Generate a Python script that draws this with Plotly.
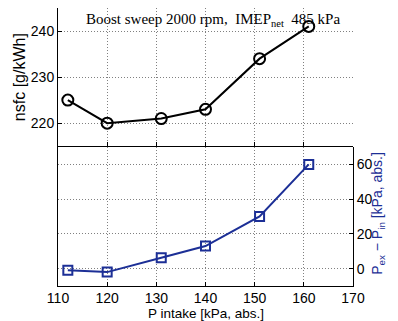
import plotly.graph_objects as go

p_intake = [112, 120, 131, 140, 151, 161]
nsfc = [225, 220, 221, 223, 234, 241]
dp = [-1, -2, 6.3, 13, 30, 60]

x_ticks = [110, 120, 130, 140, 150, 160, 170]
nsfc_ticks = [220, 230, 240]
dp_ticks = [0, 20, 40, 60]

blue = "#1c2f96"
font = dict(family="Liberation Sans, Arial", size=14, color="black")

fig = go.Figure()
fig.add_trace(go.Scatter(x=p_intake, y=nsfc, mode="lines+markers",
                         line=dict(color="black", width=2),
                         marker=dict(symbol="circle-open", size=11, color="black", line=dict(width=2)),
                         xaxis="x", yaxis="y", showlegend=False))
fig.add_trace(go.Scatter(x=p_intake, y=dp, mode="lines+markers",
                         line=dict(color=blue, width=2),
                         marker=dict(symbol="square-open", size=9, color=blue, line=dict(width=2)),
                         xaxis="x2", yaxis="y2", showlegend=False))

grid = dict(showgrid=True, gridcolor="#808080", griddash="1px,2px", gridwidth=1)
common = dict(showline=True, linecolor="black", linewidth=1, ticks="inside", ticklen=4,
              tickcolor="black", zeroline=False, automargin=False)
fig.update_layout(
    width=390, height=313,
    margin=dict(l=50, r=45, t=0, b=35),
    paper_bgcolor="white", plot_bgcolor="white",
    font=font,
    xaxis=dict(domain=[0, 1], anchor="y", range=[110, 170], tickvals=x_ticks,
               showticklabels=False, **common, **grid),
    yaxis=dict(domain=[0.503, 1], anchor="x", range=[215, 245], tickvals=nsfc_ticks,
               **common, **grid),
    xaxis2=dict(domain=[0, 1], anchor="y2", range=[110, 170], tickvals=x_ticks,
                ticklabelstandoff=-1, **common, **grid),
    yaxis2=dict(domain=[0, 0.5], anchor="x2", side="right", range=[-10, 70], tickvals=dp_ticks,
                mirror=True, **common, **grid),
)
fig.add_annotation(text="Boost sweep 2000 rpm,  IMEP<sub>net</sub>  485 kPa",
                   xref="paper", yref="paper", x=0.525, y=0.995, yanchor="top", showarrow=False,
                   font=dict(family="Liberation Serif, Times New Roman", size=15, color="black"))
fig.add_annotation(text="nsfc [g/kWh]", xref="paper", yref="paper", x=-0.13, y=0.75,
                   xanchor="center", yanchor="middle", textangle=-90, showarrow=False,
                   font=dict(size=16))
fig.add_annotation(text="P intake [kPa, abs.]", xref="paper", yref="paper", x=0.5, y=-0.1,
                   xanchor="center", yanchor="middle", showarrow=False, font=dict(size=13.5))
fig.add_annotation(text="P<sub>ex</sub> − P<sub>in</sub> [kPa, abs.]", xref="paper", yref="paper",
                   x=1.085, y=0.26, xanchor="center", yanchor="middle", textangle=-90,
                   showarrow=False, font=dict(size=14, color=blue))

fig.write_html("out.html")
